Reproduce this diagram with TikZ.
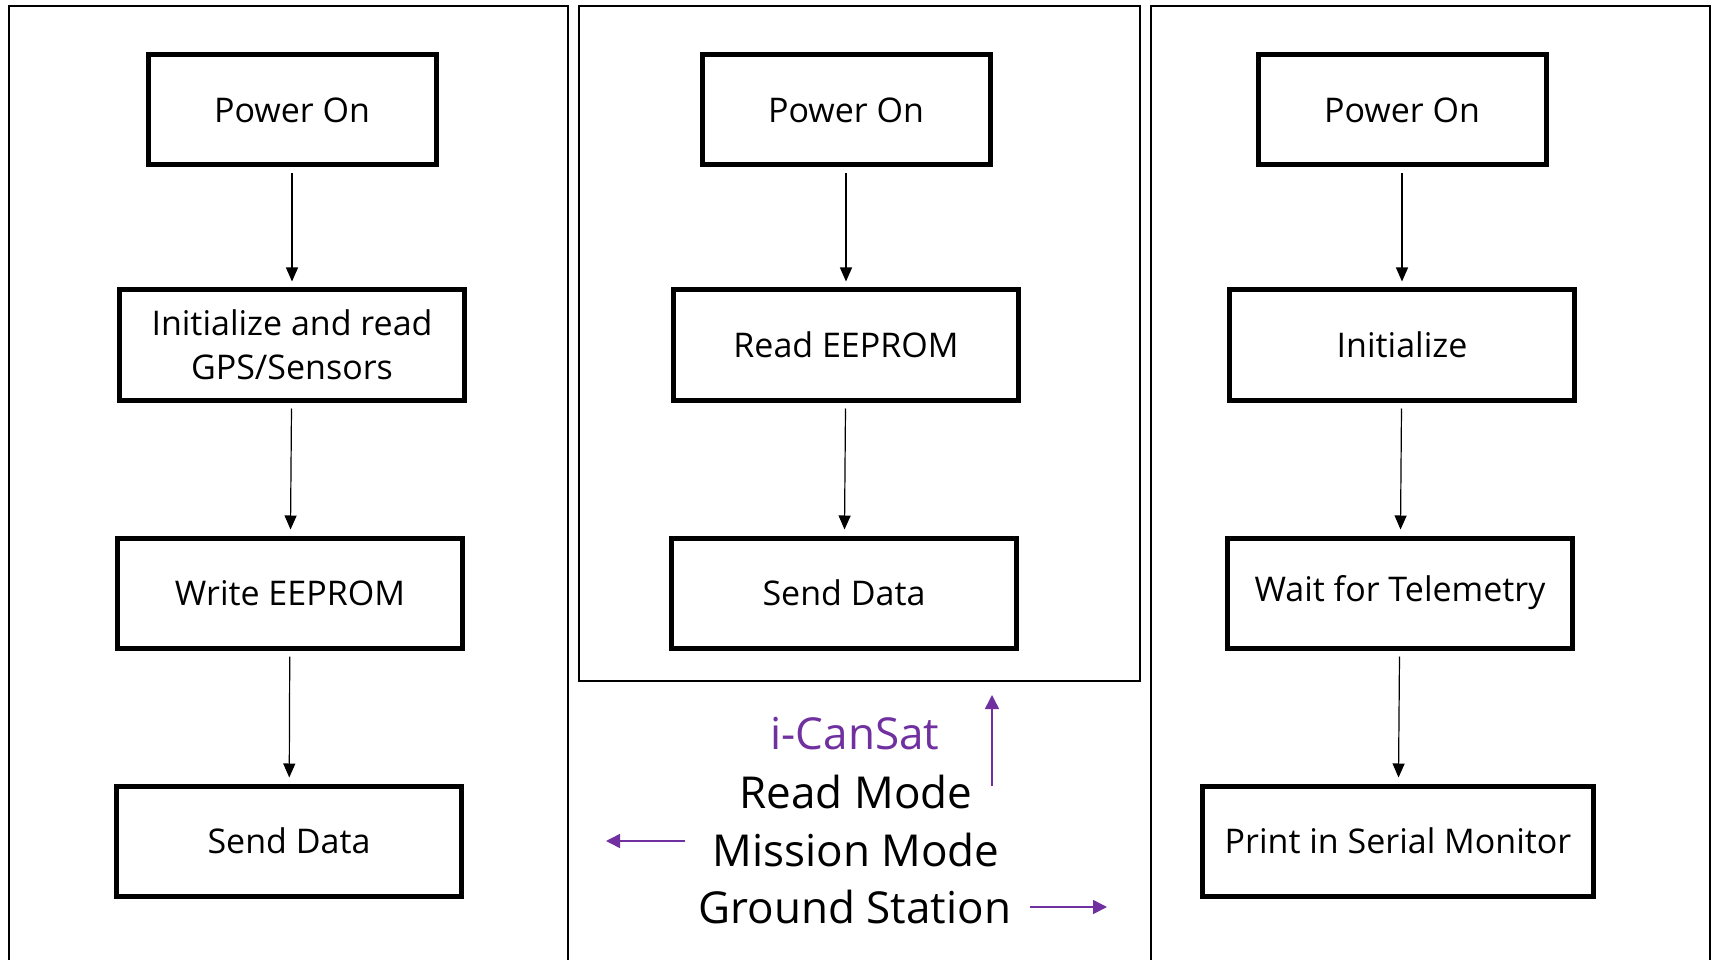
\documentclass[tikz,border=0pt]{standalone}
\usepackage{fontspec}
\setmainfont{Open Sans}
\usetikzlibrary{arrows.meta}
\definecolor{cansat}{HTML}{7030A0}

\begin{document}
\begin{tikzpicture}[x=1pt,y=-1pt,
  box/.style={draw,line width=5pt,minimum height=110pt,inner sep=0pt,align=center,
    font=\fontsize{34}{44}\selectfont},
  flow/.style={-{Triangle[length=14pt,width=12pt]},line width=1.2pt,
    shorten <=6pt,shorten >=6pt},
  mode/.style={font=\fontsize{44}{50}\selectfont},
  hint/.style={cansat,-{Triangle[length=14pt,width=14pt]},line width=1.5pt}]
  \useasboundingbox (0,0) rectangle (1717,960);

  % panels
  \draw[line width=2pt] (9,962) -- (9,6) -- (568,6) -- (568,962);
  \draw[line width=2pt] (579,6) rectangle (1140,681);
  \draw[line width=2pt] (1151,962) -- (1151,6) -- (1710,6) -- (1710,962);

  % mission mode
  \node[box,minimum width=288pt] (pwrA) at (292,110) {Power On};
  \node[box,minimum width=345pt] (initA) at (292,345) {Initialize and read\\GPS/Sensors};
  \node[box,minimum width=345pt] (writeA) at (290,593) {Write EEPROM};
  \node[box,minimum width=345pt] (sendA) at (289,841) {Send Data};
  \draw[flow] (pwrA) -- (initA);
  \draw[flow] (initA) -- (writeA);
  \draw[flow] (writeA) -- (sendA);

  % read mode
  \node[box,minimum width=288pt] (pwrB) at (846,110) {Power On};
  \node[box,minimum width=345pt] (readB) at (846,345) {Read EEPROM};
  \node[box,minimum width=345pt] (sendB) at (844,593) {Send Data};
  \draw[flow] (pwrB) -- (readB);
  \draw[flow] (readB) -- (sendB);

  % ground station
  \node[box,minimum width=288pt] (pwrC) at (1402,110) {Power On};
  \node[box,minimum width=345pt] (initC) at (1402,345) {Initialize};
  \node[box,minimum width=345pt] (waitC) at (1400,593) {Wait for Telemetry};
  \node[box,minimum width=391pt] (printC) at (1398,841) {Print in Serial Monitor};
  \draw[flow] (pwrC) -- (initC);
  \draw[flow] (initC) -- (waitC);
  \draw[flow] (waitC) -- (printC);

  % legend
  \node[mode,text=cansat] (cansat) at (855,734) {i-CanSat};
  \node[mode] (readm) at (856,792) {Read Mode};
  \node[mode] (missm) at (856,850) {Mission Mode};
  \node[mode] (grounds) at (855,907) {Ground Station};
  \coordinate (upS) at (992,786);
  \coordinate (upE) at (992,695);
  \coordinate (leftS) at (685,841);
  \coordinate (leftE) at (606,841);
  \coordinate (rightS) at (1030,907);
  \coordinate (rightE) at (1107,907);
  \draw[hint] (upS) -- (upE);
  \draw[hint] (leftS) -- (leftE);
  \draw[hint] (rightS) -- (rightE);
\end{tikzpicture}
\end{document}
